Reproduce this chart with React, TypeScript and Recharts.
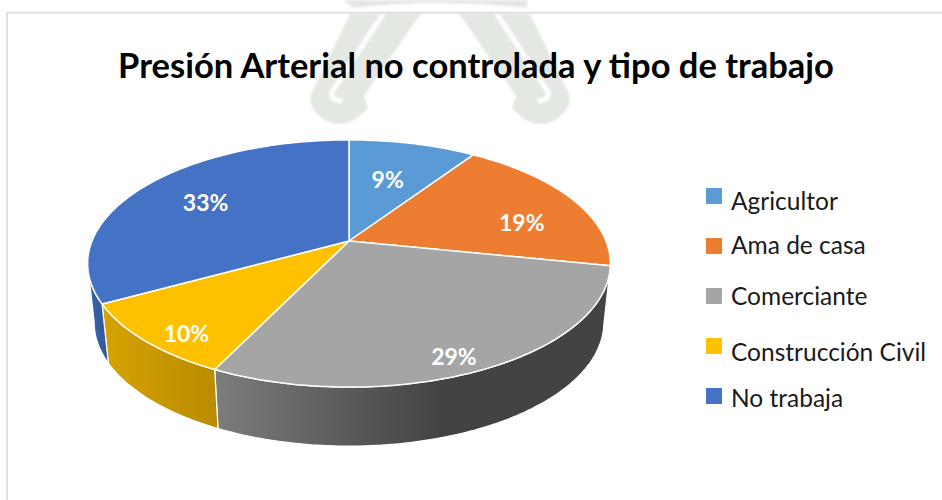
import { Legend, Pie, PieChart } from "recharts";

const CATEGORIES = ["Agricultor", "Ama de casa", "Comerciante", "Construcción Civil", "No trabaja"];
// shares; the labels show them rounded
const VALUES = [9.4, 18.8, 29, 9.8, 33];
const COLORS = ["#5b9bd5", "#ed7d31", "#a5a5a5", "#ffc000", "#4472c4"];
const SIDE_FILLS = ["#3f75a8", "#b85f22", "url(#sideGrey)", "url(#sideYellow)", "url(#sideBlue)"];
// label nudges from the default anchor, in px
const LABEL_NUDGE = [[-8, 9], [14, 11], [15, 30], [-26, 25], [2, 1]];
// legend text sits unevenly next to its swatch in the original
const LEGEND_TEXT_DY = [4, -2, -1, 5, 1];

const FONT = "Lato, Carlito, sans-serif";
const TILT = 0.465; // vertical squash of the pie plane
const PERSP = 0.182; // perspective strength, back of the pie is smaller
const DEPTH = 59;
const BOTTOM_SCALE = 0.975;
const VISIBLE_FROM = 101.5; // rim angles (clockwise from top) facing the viewer
const VISIBLE_TO = 259.5;

const chartData = CATEGORIES.map((name, i) => ({ name, value: VALUES[i], fill: COLORS[i] }));

function project(cx: number, cy: number, radius: number, deg: number, r = 1) {
  const rad = (deg * Math.PI) / 180;
  const u = r * Math.sin(rad);
  const v = r * Math.cos(rad);
  const w = 1 + PERSP * v;
  return { x: cx + (radius * u) / w, y: cy - (radius * TILT * v) / w };
}

function arcPoints(from: number, to: number, fn: (deg: number) => { x: number; y: number }) {
  const pts = [];
  const steps = Math.max(2, Math.ceil(Math.abs(to - from)));
  for (let i = 0; i <= steps; i++) pts.push(fn(from + ((to - from) * i) / steps));
  return pts;
}

const toPath = (pts: { x: number; y: number }[]) =>
  pts.map((p, i) => `${i ? "L" : "M"}${p.x.toFixed(1)} ${p.y.toFixed(1)}`).join(" ");

function Slice3D(props: any) {
  const { cx, cy, outerRadius, startAngle, endAngle, fill, index } = props;
  const from = 90 - startAngle;
  const to = 90 - endAngle;
  const top = (deg: number) => project(cx, cy, outerRadius, deg);
  const bottom = (deg: number) => {
    const p = project(cx, cy, outerRadius, deg);
    return { x: cx + (p.x - cx) * BOTTOM_SCALE, y: p.y + DEPTH };
  };
  const a = Math.max(from, VISIBLE_FROM);
  const b = Math.min(to, VISIBLE_TO);
  const rim = arcPoints(from, to, top);
  return (
    <g>
      {b > a && (
        <path
          d={`${toPath(arcPoints(a, b, top))} ${toPath(arcPoints(b, a, bottom)).replace("M", "L")} Z`}
          fill={SIDE_FILLS[index]}
          stroke="#fff"
          strokeWidth={1.2}
          strokeLinejoin="round"
        />
      )}
      <path
        d={`M${cx} ${cy} ${toPath(rim).replace("M", "L")} Z`}
        fill={fill}
        stroke="#fff"
        strokeWidth={1.5}
        strokeLinejoin="round"
      />
    </g>
  );
}

function SliceLabel(props: any) {
  const { cx, cy, outerRadius, midAngle, value, index } = props;
  const p = project(cx, cy, outerRadius, 90 - midAngle, 0.7);
  const [dx, dy] = LABEL_NUDGE[index];
  return (
    <text
      x={p.x + dx}
      y={p.y + dy}
      fill="#fff"
      fontFamily={FONT}
      fontWeight={700}
      fontSize={23}
      textAnchor="middle"
      dominantBaseline="central"
    >
      {Math.round(value)}%
    </text>
  );
}

function ChartLegend({ payload }: any) {
  return (
    <div style={{ position: "relative", width: 236, height: 220 }}>
      {(payload ?? []).map((item: any, i: number) => (
        <div key={item.value}>
          <span
            style={{ position: "absolute", left: 0, top: i * 50, width: 16, height: 16, background: item.color }}
          />
          <span
            style={{
              position: "absolute",
              left: 25,
              top: i * 50 + 8 + LEGEND_TEXT_DY[i],
              transform: "translateY(-50%)",
              whiteSpace: "nowrap",
              fontFamily: FONT,
              fontSize: 24.5,
              color: "#1a1a1a",
            }}
          >
            {item.value}
          </span>
        </div>
      ))}
    </div>
  );
}

// faint seal showing through the scanned page
function Watermark() {
  const leg = "M350 14 L422 12 L364 96 L368 108 Q345 134 322 118 Q306 106 312 92 Z";
  return (
    <svg width={942} height={500} style={{ position: "absolute", left: 0, top: 0 }}>
      <g style={{ filter: "blur(1px)" }}>
        <g fill="#e4e8e2">
          <path d="M343 0 H527 V8 Q440 -2 353 8 Z" />
          <path d={leg} />
          <path d={leg} transform="translate(880 0) scale(-1 1)" />
        </g>
        <g stroke="#fff" fill="none" strokeWidth={5}>
          <path d="M383 14 L332 92 Q330 100 342 101" />
          <path d="M497 14 L548 92 Q550 100 538 101" />
        </g>
      </g>
      <path d="M7 500 V12.7 H942" fill="none" stroke="#e0e0e0" strokeWidth={2} />
    </svg>
  );
}

export default function App() {
  return (
    <div style={{ position: "absolute", left: 0, top: 0, width: 942, height: 500, background: "#fff" }}>
      <Watermark />
      <div
        style={{
          position: "absolute",
          left: 0,
          top: 42,
          width: 952,
          textAlign: "center",
          fontFamily: FONT,
          fontWeight: 700,
          fontSize: 34.5,
          lineHeight: "46px",
          color: "#000",
          whiteSpace: "nowrap",
        }}
      >
        Presión Arterial no controlada y tipo de trabajo
      </div>
      <svg width={0} height={0} style={{ position: "absolute" }}>
        <defs>
          <linearGradient id="sideGrey" gradientUnits="userSpaceOnUse" x1={216} y1={0} x2={440} y2={0}>
            <stop offset="0" stopColor="#7c7c7c" />
            <stop offset="1" stopColor="#434343" />
          </linearGradient>
          <linearGradient id="sideYellow" gradientUnits="userSpaceOnUse" x1={104} y1={0} x2={216} y2={0}>
            <stop offset="0" stopColor="#d6a200" />
            <stop offset="1" stopColor="#b98c00" />
          </linearGradient>
          <linearGradient id="sideBlue" gradientUnits="userSpaceOnUse" x1={88} y1={0} x2={110} y2={0}>
            <stop offset="0" stopColor="#3a66ae" />
            <stop offset="1" stopColor="#2f5597" />
          </linearGradient>
        </defs>
      </svg>
      <div style={{ position: "absolute", left: 0, top: 0 }}>
        <PieChart width={942} height={500} margin={{ top: 0, right: 0, bottom: 0, left: 0 }}>
          <Pie
            data={chartData}
            dataKey="value"
            nameKey="name"
            cx={349}
            cy={241}
            outerRadius={257}
            startAngle={90}
            endAngle={-270}
            stroke="none"
            shape={Slice3D}
            label={SliceLabel}
            labelLine={false}
            isAnimationActive={false}
          />
          <Legend
            content={ChartLegend}
            wrapperStyle={{ position: "absolute", left: 706, top: 188, width: 236, bottom: "auto", right: "auto" }}
          />
        </PieChart>
      </div>
    </div>
  );
}
